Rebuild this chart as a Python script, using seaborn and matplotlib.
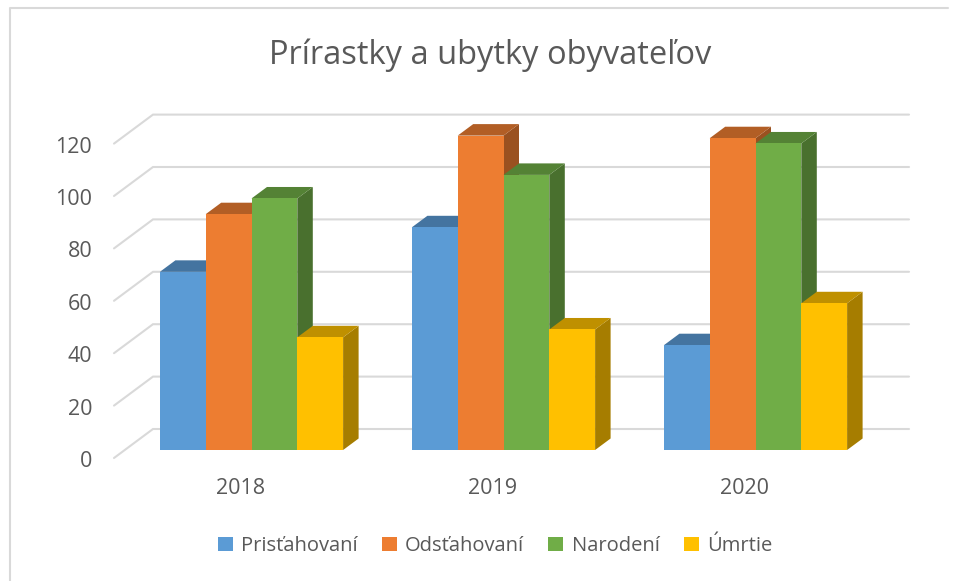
import matplotlib
matplotlib.use("Agg")
import matplotlib.pyplot as plt
from matplotlib.patches import Polygon
from matplotlib.lines import Line2D
from matplotlib.transforms import ScaledTranslation
from matplotlib.colors import to_rgb
import pandas as pd
import seaborn as sns

years = ["2018", "2019", "2020"]
pristahovani = [68, 85, 40]
odstahovani = [90, 120, 119]
narodeni = [96, 105, 117]
umrtie = [43, 46, 56]
series_names = ["Prisťahovaní", "Odsťahovaní", "Narodení", "Úmrtie"]
series_values = [pristahovani, odstahovani, narodeni, umrtie]
colors = ["#5B9BD5", "#ED7D31", "#70AD47", "#FFC000"]
y_ticks = [0, 20, 40, 60, 80, 100, 120]
title = "Prírastky a ubytky obyvateľov"

W, H = 958, 581
DPI = 100
TXT = "#595959"
GRID = "#D9D9D9"

sns.set_theme(style="white")
plt.rcParams["font.family"] = ["Open Sans", "DejaVu Sans"]

df = pd.DataFrame(
    [{"rok": y, "sk": n, "v": v}
     for n, vals in zip(series_names, series_values)
     for y, v in zip(years, vals)]
)

fig = plt.figure(figsize=(W / DPI, H / DPI), dpi=DPI, facecolor="white")
# axes = front plane of the bars
ax = fig.add_axes([125.5 / W, 1 - 450 / H, 756 / W, 314.4 / H])
sns.barplot(data=df, x="rok", y="v", hue="sk", hue_order=series_names,
            palette=colors, width=0.727, gap=0, saturation=1, ax=ax,
            errorbar=None, linewidth=0, legend=True)
ax.set_xlim(-0.5, 2.5)
ax.set_ylim(0, 120)
ax.set_xlabel("")
ax.set_ylabel("")
sns.despine(ax=ax, left=True, bottom=True)

# pixel -> data scale for the fake depth
px_x = 3 / 756
px_y = 120 / 314.4
bar_dx, bar_dy = 15.5 * px_x, 11.5 * px_y       # bar depth
front_dx, front_dy = -11.5 * px_x, -8 * px_y    # floor front edge
back_dx, back_dy = 27.5 * px_x, 21 * px_y       # back wall


def shade(c, k):
    return tuple(k * v for v in to_rgb(c))


# gridlines
for t in y_ticks:
    ax.plot([-0.5 + front_dx, -0.5 + back_dx, 2.5 + back_dx],
            [t + front_dy, t + back_dy, t + back_dy],
            color=GRID, lw=1.5, zorder=1, clip_on=False, solid_joinstyle="miter")

# 3D faces, painted left to right
n_series = len(ax.containers)
for si, cont in enumerate(ax.containers):
    col = colors[si]
    for ci, bar in enumerate(cont.patches):
        z = 3 + ci * n_series + si
        x0, x1 = bar.get_x(), bar.get_x() + bar.get_width()
        top = bar.get_height()
        ax.add_patch(Polygon([(x1, 0), (x1 + bar_dx, bar_dy), (x1 + bar_dx, top + bar_dy), (x1, top)],
                             closed=True, fc=shade(col, 0.65), ec="none", zorder=z, clip_on=False))
        ax.add_patch(Polygon([(x0, top), (x0 + bar_dx, top + bar_dy), (x1 + bar_dx, top + bar_dy), (x1, top)],
                             closed=True, fc=shade(col, 0.75), ec="none", zorder=z + 0.1, clip_on=False))
        bar.set_zorder(z + 0.2)
        bar.set_clip_on(False)

# ticks
ax.set_yticks(y_ticks)
ax.set_yticklabels([str(t) for t in y_ticks])
ax.tick_params(axis="y", length=0, pad=24, labelsize=15.5, labelcolor=TXT)
ax.tick_params(axis="x", length=0, pad=20, labelsize=15.5, labelcolor=TXT)
ylab_shift = ScaledTranslation(0, -9 / DPI, fig.dpi_scale_trans)
for lab in ax.get_yticklabels():
    lab.set_transform(lab.get_transform() + ylab_shift)
xlab_shift = ScaledTranslation(-11 / DPI, 0, fig.dpi_scale_trans)
for lab in ax.get_xticklabels():
    lab.set_transform(lab.get_transform() + xlab_shift)

# legend
handles, labels = ax.get_legend_handles_labels()
ax.get_legend().remove()
fig.legend(handles, labels, ncols=4, frameon=False, loc="center",
           bbox_to_anchor=(495 / W, 1 - 546 / H), fontsize=14.5, labelcolor=TXT,
           handlelength=0.75, handleheight=0.75, handletextpad=0.4, columnspacing=1.2,
           borderpad=0)

fig.text(490 / W, 1 - 55 / H, title, ha="center", va="center", fontsize=23.5, color=TXT)

# chart frame: only the left and top edges are visible
fig.add_artist(Line2D([10 / W, 10 / W, 948 / W], [0, 1 - 8 / H, 1 - 8 / H],
                      transform=fig.transFigure, color=GRID, lw=1.5))

fig.savefig("out.png", dpi=DPI)
